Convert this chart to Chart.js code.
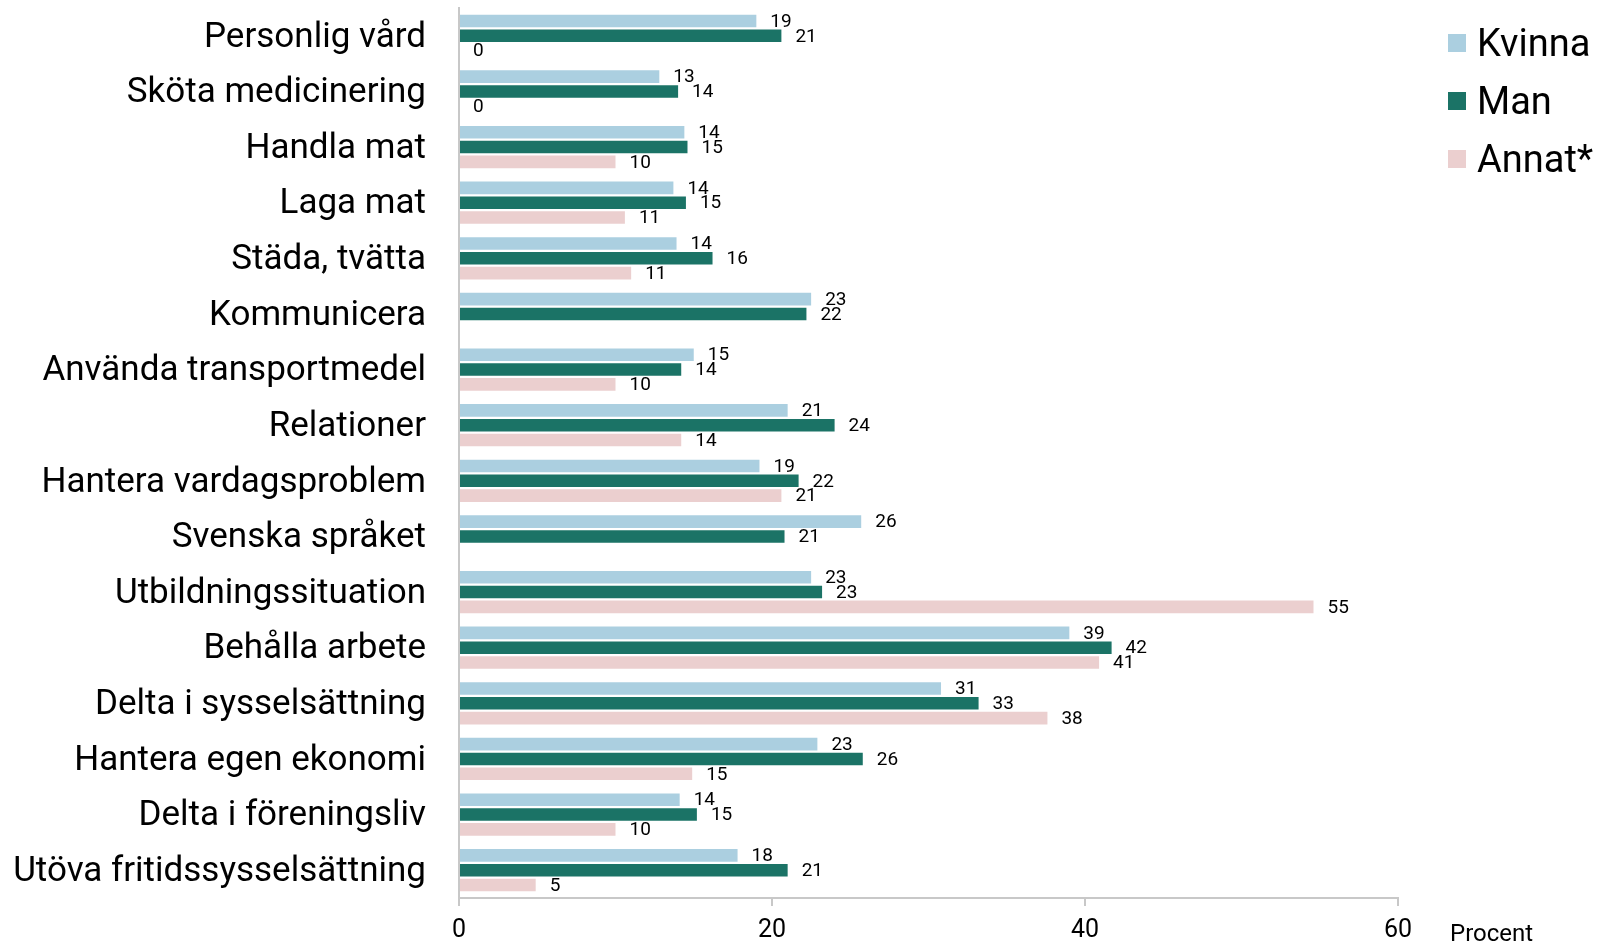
<!DOCTYPE html>
<html>
<head>
<meta charset="utf-8">
<script src="https://cdn.jsdelivr.net/npm/chart.js@4"></script>
<style>
  html, body { margin: 0; padding: 0; background: #fff; }
  #wrap { position: relative; width: 1597px; height: 942px; }
  #legend { position: absolute; left: 1448px; top: 24px; font-family: Roboto, sans-serif; font-size: 38px; color: #000; }
  .item { display: flex; align-items: center; height: 38px; margin-bottom: 20px; }
  .sw { width: 18px; height: 18px; margin-right: 11px; flex: none; }
</style>
</head>
<body>
<div id="wrap">
  <canvas id="chart" width="1597" height="942"></canvas>
  <div id="legend"></div>
</div>
<script>
const categories = [
  "Personlig vård", "Sköta medicinering", "Handla mat", "Laga mat", "Städa, tvätta",
  "Kommunicera", "Använda transportmedel", "Relationer", "Hantera vardagsproblem",
  "Svenska språket", "Utbildningssituation", "Behålla arbete", "Delta i sysselsättning",
  "Hantera egen ekonomi", "Delta i föreningsliv", "Utöva fritidssysselsättning",
];
const kvinna = [19.0, 12.8, 14.4, 13.7, 13.9, 22.5, 15.0, 21.0, 19.2, 25.7, 22.5, 39.0, 30.8, 22.9, 14.1, 17.8];
const man = [20.6, 14.0, 14.6, 14.5, 16.2, 22.2, 14.2, 24.0, 21.7, 20.8, 23.2, 41.7, 33.2, 25.8, 15.2, 21.0];
const annat = [0, 0, 10.0, 10.6, 11.0, null, 10.0, 14.2, 20.6, null, 54.6, 40.9, 37.6, 14.9, 10.0, 4.9];
const seriesNames = ["Kvinna", "Man", "Annat*"];
const colors = ["#abcfe0", "#1b7366", "#ebcfcf"];
const xTicks = [0, 20, 40, 60];
const FONT = "Roboto, sans-serif";

const valueLabels = {
  id: "valueLabels",
  afterDatasetsDraw(chart) {
    const ctx = chart.ctx;
    ctx.save();
    ctx.font = "19px " + FONT;
    ctx.fillStyle = "#000";
    ctx.textAlign = "left";
    ctx.textBaseline = "middle";
    chart.data.datasets.forEach((ds, i) => {
      chart.getDatasetMeta(i).data.forEach((bar, j) => {
        const v = ds.data[j];
        if (v === null || v === undefined) return;
        ctx.fillText(String(Math.round(v)), bar.x + 14, bar.y + 1);
      });
    });
    // axis unit next to the last tick
    const xs = chart.scales.x;
    ctx.font = "24px " + FONT;
    ctx.fillText("Procent", xs.right + 52, 935);
    ctx.restore();
  },
};

const Chart = window.Chart;
new Chart(document.getElementById("chart"), {
  type: "bar",
  data: {
    labels: categories,
    datasets: [kvinna, man, annat].map((d, i) => ({
      label: seriesNames[i],
      data: d,
      backgroundColor: colors[i],
      categoryPercentage: 0.8,
      barPercentage: 0.85,
    })),
  },
  options: {
    indexAxis: "y",
    responsive: false,
    animation: false,
    layout: { padding: { top: 8, right: 199, bottom: 0, left: 0 } },
    plugins: { legend: { display: false }, tooltip: { enabled: false } },
    scales: {
      x: {
        min: 0,
        max: 60,
        afterBuildTicks: (s) => { s.ticks = xTicks.map((v) => ({ value: v })); },
        afterFit: (s) => { s.height = 44; },
        ticks: { color: "#000", font: { family: FONT, size: 25, lineHeight: 1 }, padding: 12 },
        grid: { drawOnChartArea: false, drawTicks: true, tickLength: 8, color: "#c8c8c8", lineWidth: 2 },
        border: { color: "#c8c8c8", width: 2 },
      },
      y: {
        afterFit: (s) => { s.width = 459; s.paddingTop = 0; s.paddingBottom = 0; },
        ticks: { color: "#000", font: { family: FONT, size: 35 }, padding: 33, labelOffset: 2, autoSkip: false },
        grid: { display: false, drawTicks: false },
        border: { color: "#c8c8c8", width: 2 },
      },
    },
  },
  plugins: [valueLabels],
});

const legend = document.getElementById("legend");
seriesNames.forEach((name, i) => {
  const row = document.createElement("div");
  row.className = "item";
  row.innerHTML = '<span class="sw" style="background:' + colors[i] + '"></span><span>' + name + "</span>";
  legend.appendChild(row);
});
</script>
</body>
</html>
